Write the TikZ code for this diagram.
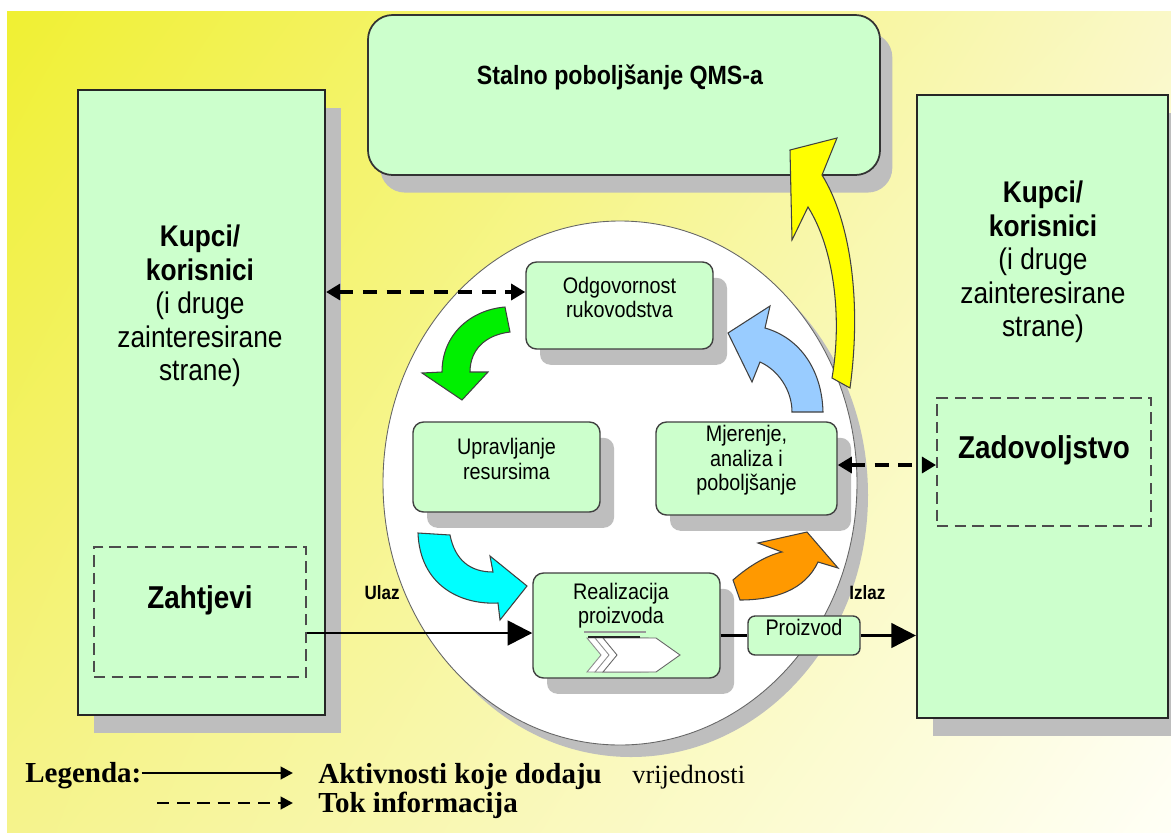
\documentclass[tikz,border=0pt]{standalone}
\usepackage{fontspec}
\setmainfont{Liberation Serif}
\newfontfamily\dsans[FakeStretch=0.88]{Liberation Sans}
\usetikzlibrary{shadows,fit,arrows.meta,shadings}
\definecolor{boxgreen}{RGB}{204,255,204}
\definecolor{shadgray}{RGB}{190,190,190}
\definecolor{bgUL}{RGB}{240,240,50}
\definecolor{bgUR}{RGB}{250,248,200}
\definecolor{bgLL}{RGB}{245,243,140}
\definecolor{bgLR}{RGB}{255,255,246}
\definecolor{arrYellow}{RGB}{255,255,0}
\definecolor{arrGreen}{RGB}{0,240,0}
\definecolor{arrCyan}{RGB}{0,255,255}
\definecolor{arrOrange}{RGB}{255,153,0}
\definecolor{arrBlue}{RGB}{153,204,255}
\tikzset{
 bigbox/.style={draw=black!85, line width=1.2pt, fill=boxgreen, inner sep=0pt,
   general shadow={fill=shadgray, shadow xshift=9pt, shadow yshift=-10pt}},
 topbox/.style={draw=black!80, line width=1pt, fill=boxgreen, inner sep=0pt, rounded corners=14pt,
   general shadow={fill=shadgray, shadow xshift=7pt, shadow yshift=-10pt}},
 procbox/.style={draw=black!75, line width=0.8pt, fill=boxgreen, rounded corners=6pt, inner sep=0pt,
   align=center, font=\dsans\fontsize{12.8}{13.8}\selectfont,
   general shadow={fill=shadgray, shadow xshift=8pt, shadow yshift=-9pt}},
 flatbox/.style={draw=black!75, line width=0.8pt, fill=boxgreen, rounded corners=4pt, inner sep=0pt,
   align=center, font=\dsans\fontsize{12.8}{13.8}\selectfont},
 dashbox/.style={draw=black!70, line width=1.1pt, dash pattern=on 6.5pt off 3.5pt, inner sep=0pt,
   font=\dsans\bfseries\fontsize{18}{20}\selectfont},
 bigtext/.style={align=center, font=\dsans\fontsize{17}{19}\selectfont},
 info/.style={line width=2pt, dash pattern=on 8pt off 5.5pt,
   {Triangle[length=8pt,width=9pt]}-{Triangle[length=8pt,width=9pt]}},
 flow/.style={line width=1.5pt, -{Triangle[length=14pt,width=14pt]}},
 blockarr/.style={draw=black!75, line width=0.6pt, line join=miter},
 smalllab/.style={font=\dsans\bfseries\fontsize{11}{12}\selectfont, inner sep=0pt},
 legtext/.style={font=\bfseries\fontsize{16.5}{18}\selectfont, anchor=base west, inner sep=0pt},
 chev/.style={fill=white, line width=0.5pt, line join=miter},
}
\begin{document}
\begin{tikzpicture}[x=0.02cm,y=-0.02cm]
\useasboundingbox (0,0) rectangle (1171,836);
\fill[white] (0,0) rectangle (1171,836);
\shade[upper left=bgUL, upper right=bgUR, lower left=bgLL, lower right=bgLR] (7,11) rectangle (1171,832);

% outer boxes
\node[bigbox, fit={(78,90) (325,715)}] (lcust) {};
\node[bigbox, fit={(917,95) (1168,718)}] (rcust) {};
\node[topbox, fit={(368,15) (880,175)}] (qms) {};
\node[font=\dsans\bfseries\fontsize{15}{17}\selectfont] (qmst) at (620,77) {Stalno poboljšanje QMS-a};

\node[bigtext] (ltext) at (200,306) {\textbf{Kupci/}\\\textbf{korisnici}\\(i druge\\zainteresirane\\strane)};
\node[bigtext] (rtext) at (1043,262) {\textbf{Kupci/}\\\textbf{korisnici}\\(i druge\\zainteresirane\\strane)};

\node[dashbox, fit={(94,547) (306,677)}] (zah) {Zahtjevi};
\node[dashbox, fit={(937,398) (1151,526)}] (zad) {Zadovoljstvo};

% central circle
\fill[shadgray] (631,495) ellipse [x radius=237, y radius=262];
\filldraw[fill=white, draw=black!60, line width=0.5pt] (620,483) ellipse [x radius=237, y radius=262];

% process boxes
\node[procbox, fit={(526,262) (713,349)}] (odg) {Odgovornost\\rukovodstva};
\node[procbox, fit={(413,422) (600,512)}] (upr) {Upravljanje\\resursima};
\node[procbox, fit={(656,422) (837,515)}] (mje) {Mjerenje,\\analiza i\\poboljšanje};
\node[procbox, fit={(533,573) (720,678)}] (rea) {};
\node[align=center, font=\dsans\fontsize{12.8}{13.8}\selectfont] (reat) at (621,606) {Realizacija\\proizvoda};
\node[flatbox, fit={(748,616) (860,655)}] (pro) {Proizvod};

% chevron icon
\draw[gray!80, line width=1.5pt] (584,632) -- (646,632);
\foreach \dx/\col in {-16/black!45, -8/black!45, 0/black!60}{
  \filldraw[chev, draw=\col, shift={(\dx,0)}] (603,638) -- (656,638) -- (680,655) -- (656,672) -- (603,672) -- (617,655) -- cycle;
}
\draw[black!85, line width=1.2pt] (588,637) -- (640,637);

% connectors
\draw[info] (lcust.east |- 0,292) -- (odg.west |- 0,292);
\draw[info] (mje.east |- 0,465) -- (zad.west |- 0,465);
\draw[flow] (zah.east |- 0,633) -- (rea.west |- 0,633);
\draw[line width=1.5pt] (rea.east |- pro.west) -- (pro.west);
\draw[flow] (pro.east) -- (pro.east -| rcust.west);

\node[smalllab, anchor=east] (ulaz) at (400,593) {Ulaz};
\node[smalllab, anchor=west] (izlaz) at (849,593) {Izlaz};

% cycle arrows
\filldraw[blockarr, fill=arrGreen] (505,307) -- (510,332) .. controls (485,335) and (470,350) .. (470,372) -- (488,372) -- (462,400) -- (422,373) -- (442,372) .. controls (442,335) and (470,310) .. (505,307) -- cycle;
\filldraw[blockarr, fill=arrCyan] (418,533) -- (450,535) .. controls (455,560) and (470,572) .. (493,572) -- (490,556) -- (527,586) -- (500,620) -- (498,603) .. controls (460,605) and (420,585) .. (418,533) -- cycle;
\filldraw[blockarr, fill=arrOrange] (733,580) .. controls (750,565) and (768,555) .. (782,552) -- (758,543) -- (807,532) -- (838,568) -- (818,562) .. controls (805,590) and (775,600) .. (740,600) -- cycle;
\filldraw[blockarr, fill=arrBlue] (792,412) -- (823,412) .. controls (822,370) and (800,338) .. (765,328) -- (770,306) -- (728,333) -- (752,382) -- (760,362) .. controls (778,370) and (792,390) .. (792,412) -- cycle;
\filldraw[blockarr, fill=arrYellow] (832,378) -- (850,388) .. controls (862,300) and (850,220) .. (822,175) -- (837,138) -- (790,150) -- (792,240) -- (808,207) .. controls (835,250) and (842,320) .. (832,378) -- cycle;

% legend
\node[legtext] (leg) at (25,782) {Legenda:};
\coordinate (l1end) at (293,773);
\coordinate (l2start) at (157,803);
\coordinate (l2end) at (293,803);
\draw[line width=1.6pt, -{Triangle[length=7pt,width=7pt]}] (leg.east |- 0,773) -- (l1end);
\draw[line width=1.6pt, dash pattern=on 7pt off 4.5pt, -{Triangle[length=7pt,width=7pt]}] (l2start) -- (l2end);
\node[legtext] (akt) at (318,783) {Aktivnosti koje dodaju};
\node[font=\fontsize{15}{17}\selectfont, anchor=base west, inner sep=0pt] (vri) at (632,783) {vrijednosti};
\node[legtext] (tok) at (318,812) {Tok informacija};
\end{tikzpicture}
\end{document}
